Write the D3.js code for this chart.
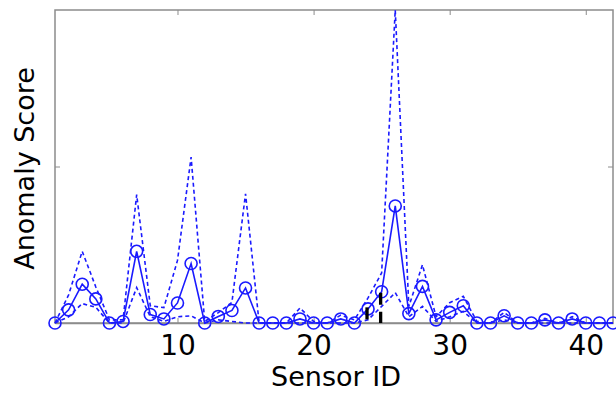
<!DOCTYPE html>
<html><head><meta charset="utf-8">
<script src="https://cdn.jsdelivr.net/npm/d3@7"></script>
<style>html,body{margin:0;padding:0;background:#fff;}svg{display:block;}</style>
</head><body>
<svg id="c" width="616" height="393"></svg>
<script>
const sensors = d3.range(1, 43);
const meanScore = [0,0.042,0.124,0.077,0,0.005,0.229,0.027,0.013,0.064,0.19,0,0.021,0.04,0.112,0,0,0,0.013,0,0,0.013,0,0.045,0.10,0.374,0.03,0.117,0.01,0.034,0.055,0,0,0.023,0,0,0.01,0,0.013,0,0,0];
const upperScore = [0,0.09,0.229,0.115,0.01,0.01,0.41,0.055,0.049,0.2,0.53,0.005,0.033,0.066,0.413,0,0,0,0.048,0.005,0,0.025,0.01,0.08,0.16,1.0,0.053,0.186,0.02,0.065,0.085,0.005,0,0.034,0,0,0.015,0,0.02,0,0,0];
const lowerScore = [0,0.02,0.062,0.05,0,0,0.113,0.02,0.005,0.02,0.023,0,0.01,0.005,0,0,0,0,0,0,0,0,0,0.01,0.053,0.097,0.02,0.053,0.005,0.02,0.037,0,0,0.01,0,0,0,0,0,0,0,0];
const stemSensors = [24, 25];
const stemValues = [0.05, 0.097];
const xTicks = [10, 20, 30, 40];
const yTicks = [0.5];

const svg = d3.select("#c");
const L = 55, R = 613, T = 10, B = 323;
const x = d3.scaleLinear().domain([1, 42]).range([L, R]);
const y = d3.scaleLinear().domain([0, 1]).range([B, T]);
const blue = "#1a1aff";
const axisCol = "#8c8c8c";

svg.append("rect").attr("x", L).attr("y", T).attr("width", R - L).attr("height", B - T)
  .attr("fill", "none").attr("stroke", axisCol).attr("stroke-width", 1.5);

const gx = svg.append("g").attr("transform", `translate(0,${B})`)
  .call(d3.axisBottom(x).tickValues(xTicks).tickSizeInner(-5).tickSizeOuter(0).tickPadding(12));
gx.select(".domain").attr("stroke", axisCol).attr("stroke-width", 1.5);
gx.selectAll(".tick line").attr("stroke", axisCol);
gx.selectAll(".tick text").attr("font-family", "DejaVu Sans").attr("font-size", 28).attr("fill", "#000");

const gxt = svg.append("g").attr("transform", `translate(0,${T})`)
  .call(d3.axisTop(x).tickValues(xTicks).tickSizeInner(-5).tickSizeOuter(0).tickFormat(""));
gxt.select(".domain").remove();
gxt.selectAll(".tick line").attr("stroke", axisCol);

const gyl = svg.append("g").attr("transform", `translate(${L},0)`)
  .call(d3.axisLeft(y).tickValues(yTicks).tickSizeInner(-5).tickSizeOuter(0).tickFormat(""));
gyl.select(".domain").remove();
gyl.selectAll(".tick line").attr("stroke", axisCol);
const gyr = svg.append("g").attr("transform", `translate(${R},0)`)
  .call(d3.axisRight(y).tickValues(yTicks).tickSizeInner(-5).tickSizeOuter(0).tickFormat(""));
gyr.select(".domain").remove();
gyr.selectAll(".tick line").attr("stroke", axisCol);

svg.append("text").attr("x", (L + R) / 2 + 2).attr("y", 386).attr("text-anchor", "middle")
  .attr("font-family", "DejaVu Sans").attr("font-size", 27).text("Sensor ID");
svg.append("text").attr("transform", `translate(34,${(T + B) / 2 + 2}) rotate(-90)`).attr("text-anchor", "middle")
  .attr("font-family", "DejaVu Sans").attr("font-size", 27).text("Anomaly Score");

const line = d3.line().x((d, i) => x(sensors[i])).y(d => y(d));

svg.append("path").datum(upperScore).attr("d", line).attr("fill", "none")
  .attr("stroke", blue).attr("stroke-width", 1.6).attr("stroke-dasharray", "4,3");
svg.append("path").datum(lowerScore).attr("d", line).attr("fill", "none")
  .attr("stroke", blue).attr("stroke-width", 1.6).attr("stroke-dasharray", "4,3");
svg.append("path").datum(meanScore).attr("d", line).attr("fill", "none")
  .attr("stroke", blue).attr("stroke-width", 1.6);
svg.append("g").selectAll("circle").data(meanScore).join("circle")
  .attr("cx", (d, i) => x(sensors[i])).attr("cy", d => y(d)).attr("r", 6)
  .attr("fill", "none").attr("stroke", blue).attr("stroke-width", 1.6);

svg.append("g").selectAll("line").data(stemValues).join("line")
  .attr("x1", (d, i) => x(stemSensors[i]) - 1).attr("x2", (d, i) => x(stemSensors[i]) - 1)
  .attr("y1", d => y(d)).attr("y2", y(0))
  .attr("stroke", "#000").attr("stroke-width", 3.3).attr("stroke-dasharray", "12,7");
</script>
</body></html>
